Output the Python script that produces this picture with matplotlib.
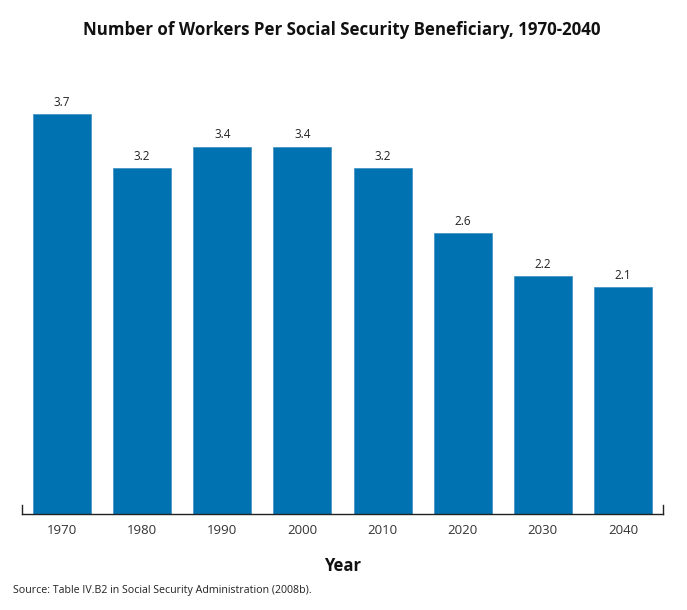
import matplotlib
matplotlib.use("Agg")
import matplotlib.pyplot as plt

years = ["1970", "1980", "1990", "2000", "2010", "2020", "2030", "2040"]
workers = [3.7, 3.2, 3.4, 3.4, 3.2, 2.6, 2.2, 2.1]
labels = ["3.7", "3.2", "3.4", "3.4", "3.2", "2.6", "2.2", "2.1"]

plt.rcParams['font.family'] = ['Open Sans', 'DejaVu Sans']

W, H = 687, 610
fig = plt.figure(figsize=(W / 100, H / 100), dpi=100)
left, right = 22 / W, 663 / W
bottom = (H - 514) / H
ylim_top = 4.0
top_px = 514 - ylim_top * 108
ax = fig.add_axes([left, bottom, right - left, (514 - top_px) / H])

x = list(range(len(years)))
bars = ax.bar(x, workers, width=0.725, color='#0071B1', edgecolor='#3d8cc0', linewidth=0.5)
ax.set_xlim(-0.5, len(years) - 0.5)
ax.set_ylim(0, ylim_top)

for xi, v, lab in zip(x, workers, labels):
    ax.text(xi, v + 0.05, lab, ha='center', va='bottom', fontsize=8.5, color='#222222')

ax.set_xticks(x)
ax.set_xticklabels(years, fontsize=9.5, color='#333333')
ax.tick_params(axis='x', length=0, pad=7)
ax.set_yticks([])
ax.spines['top'].set_visible(False)
ax.spines['left'].set_bounds(0, 0.08)
ax.spines['right'].set_bounds(0, 0.08)
for s in ['left', 'right', 'bottom']:
    ax.spines[s].set_color('#222222')
    ax.spines[s].set_linewidth(1.0)

fig.text(342 / W, 1 - 30 / H, "Number of Workers Per Social Security Beneficiary, 1970-2040",
         ha='center', va='center', fontsize=12.2, fontweight='bold', color='#111111')
fig.text(343 / W, 1 - 566 / H, "Year", ha='center', va='center', fontsize=12,
         fontweight='bold', color='#111111')
fig.text(13 / W, 1 - 590 / H, "Source: Table IV.B2 in Social Security Administration (2008b).",
         ha='left', va='center', fontsize=7.7, color='#222222')

fig.savefig("out.png", dpi=100)
